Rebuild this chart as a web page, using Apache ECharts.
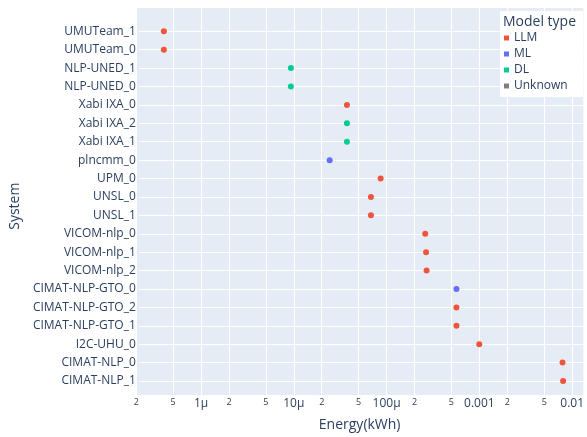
<!DOCTYPE html>
<html><head><meta charset="utf-8">
<script src="https://cdn.jsdelivr.net/npm/echarts@6/dist/echarts.min.js"></script>
<style>html,body{margin:0;padding:0;background:#fff}#c{width:587px;height:437px}</style>
</head><body><div id="c"></div>
<script>
const systems = ['UMUTeam_1','UMUTeam_0','NLP-UNED_1','NLP-UNED_0','Xabi IXA_0','Xabi IXA_2','Xabi IXA_1','plncmm_0','UPM_0','UNSL_0','UNSL_1','VICOM-nlp_0','VICOM-nlp_1','VICOM-nlp_2','CIMAT-NLP-GTO_0','CIMAT-NLP-GTO_2','CIMAT-NLP-GTO_1','I2C-UHU_0','CIMAT-NLP_0','CIMAT-NLP_1'];
const energy = [3.7e-7,3.7e-7,8.6e-6,8.6e-6,3.45e-5,3.45e-5,3.45e-5,2.25e-5,7.95e-5,6.25e-5,6.25e-5,2.40e-4,2.45e-4,2.48e-4,5.2e-4,5.2e-4,5.2e-4,9.15e-4,7.2e-3,7.3e-3];
const modelType = ['LLM','LLM','DL','DL','LLM','DL','DL','ML','LLM','LLM','LLM','LLM','LLM','LLM','ML','LLM','LLM','LLM','LLM','LLM'];
const typeNames = ['LLM','ML','DL','Unknown'];
const typeColors = ['#EF553B','#636EFA','#00CC96','#7F7F7F'];
const tickValues = [2e-7,5e-7,1e-6,2e-6,5e-6,1e-5,2e-5,5e-5,1e-4,2e-4,5e-4,1e-3,2e-3,5e-3,1e-2];
const tickLabels = ['2','5','1μ','2','5','10μ','2','5','100μ','2','5','0.001','2','5','0.01'];
const xMin = 1.99e-7, xMax = 0.0132;

const FONT = '"Open Sans", Verdana, Arial, sans-serif';
const TXT = '#2a3f5f';

function fmt(v){
  for (let i=0;i<tickValues.length;i++){
    if (Math.abs(Math.log10(v)-Math.log10(tickValues[i]))<1e-3){
      const l = tickLabels[i];
      return /^[25]$/.test(l) ? '{m|'+l+'}' : '{M|'+l+'}';
    }
  }
  return '';
}

const series = typeNames.map((t,k)=>({
  name: t,
  type: 'scatter',
  xAxisIndex: 1,
  yAxisIndex: 1,
  symbol: 'circle',
  symbolSize: 6,
  itemStyle: {color: typeColors[k], opacity: 1},
  data: systems.map((s,i)=> modelType[i]===t ? [energy[i], s] : null).filter(d=>d)
}));

const chart = echarts.init(document.getElementById('c'), null, {renderer:'canvas'});
chart.setOption({
  animation: false,
  backgroundColor: '#fff',
  textStyle: {fontFamily: FONT},
  grid: [
    {left:136, right:0, top:8, bottom:34, show:true, backgroundColor:'#E5ECF6', borderWidth:0},
    {left:136, right:0, top:31.3, height:349.7, show:false}
  ],
  xAxis: [
    {type:'log', gridIndex:0, min:xMin, max:xMax,
     name:'Energy(kWh)', nameLocation:'middle', nameGap:23,
     nameTextStyle:{color:TXT, fontSize:14, fontFamily:FONT},
     axisLine:{show:false}, axisTick:{show:false, customValues: tickValues},
     axisLabel:{customValues: tickValues, formatter: fmt, margin:3, color:TXT,
       rich:{m:{fontSize:9, color:TXT, fontFamily:FONT}, M:{fontSize:12, color:TXT, fontFamily:FONT}}},
     splitLine:{show:true, lineStyle:{color:'#fff', width:1}}
    },
    {type:'log', gridIndex:1, min:xMin, max:xMax, show:false,
     axisLine:{show:false}, axisTick:{show:false}, axisLabel:{show:false}, splitLine:{show:false}}
  ],
  yAxis: [
    {type:'value', gridIndex:0, show:false, splitLine:{show:false}},
    {type:'category', gridIndex:1, data: systems, inverse:true, boundaryGap:false,
     name:'System', nameLocation:'middle', nameGap:109,
     nameTextStyle:{color:TXT, fontSize:14, fontFamily:FONT},
     axisLine:{show:false}, axisTick:{show:false},
     axisLabel:{color:TXT, fontSize:12, margin:3, fontFamily:FONT, interval:0},
     splitLine:{show:true, lineStyle:{color:'#fff', width:1}}
    }
  ],
  legend: {
    data: typeNames,
    orient:'vertical', left:504, top:30, padding:0, itemGap:0,
    icon:'rect', itemWidth:5, itemHeight:5,
    textStyle:{color:TXT, fontSize:12, lineHeight:16, fontFamily:FONT},
    z: 20
  },
  graphic: [
    {type:'rect', left:500, top:11, shape:{width:83, height:86}, style:{fill:'#fff'}, z:10},
    {type:'text', left:503, top:15, style:{text:'Model type', fill:TXT, font:'14px '+FONT}, z:11}
  ],
  series: series
});
</script>
</body></html>
